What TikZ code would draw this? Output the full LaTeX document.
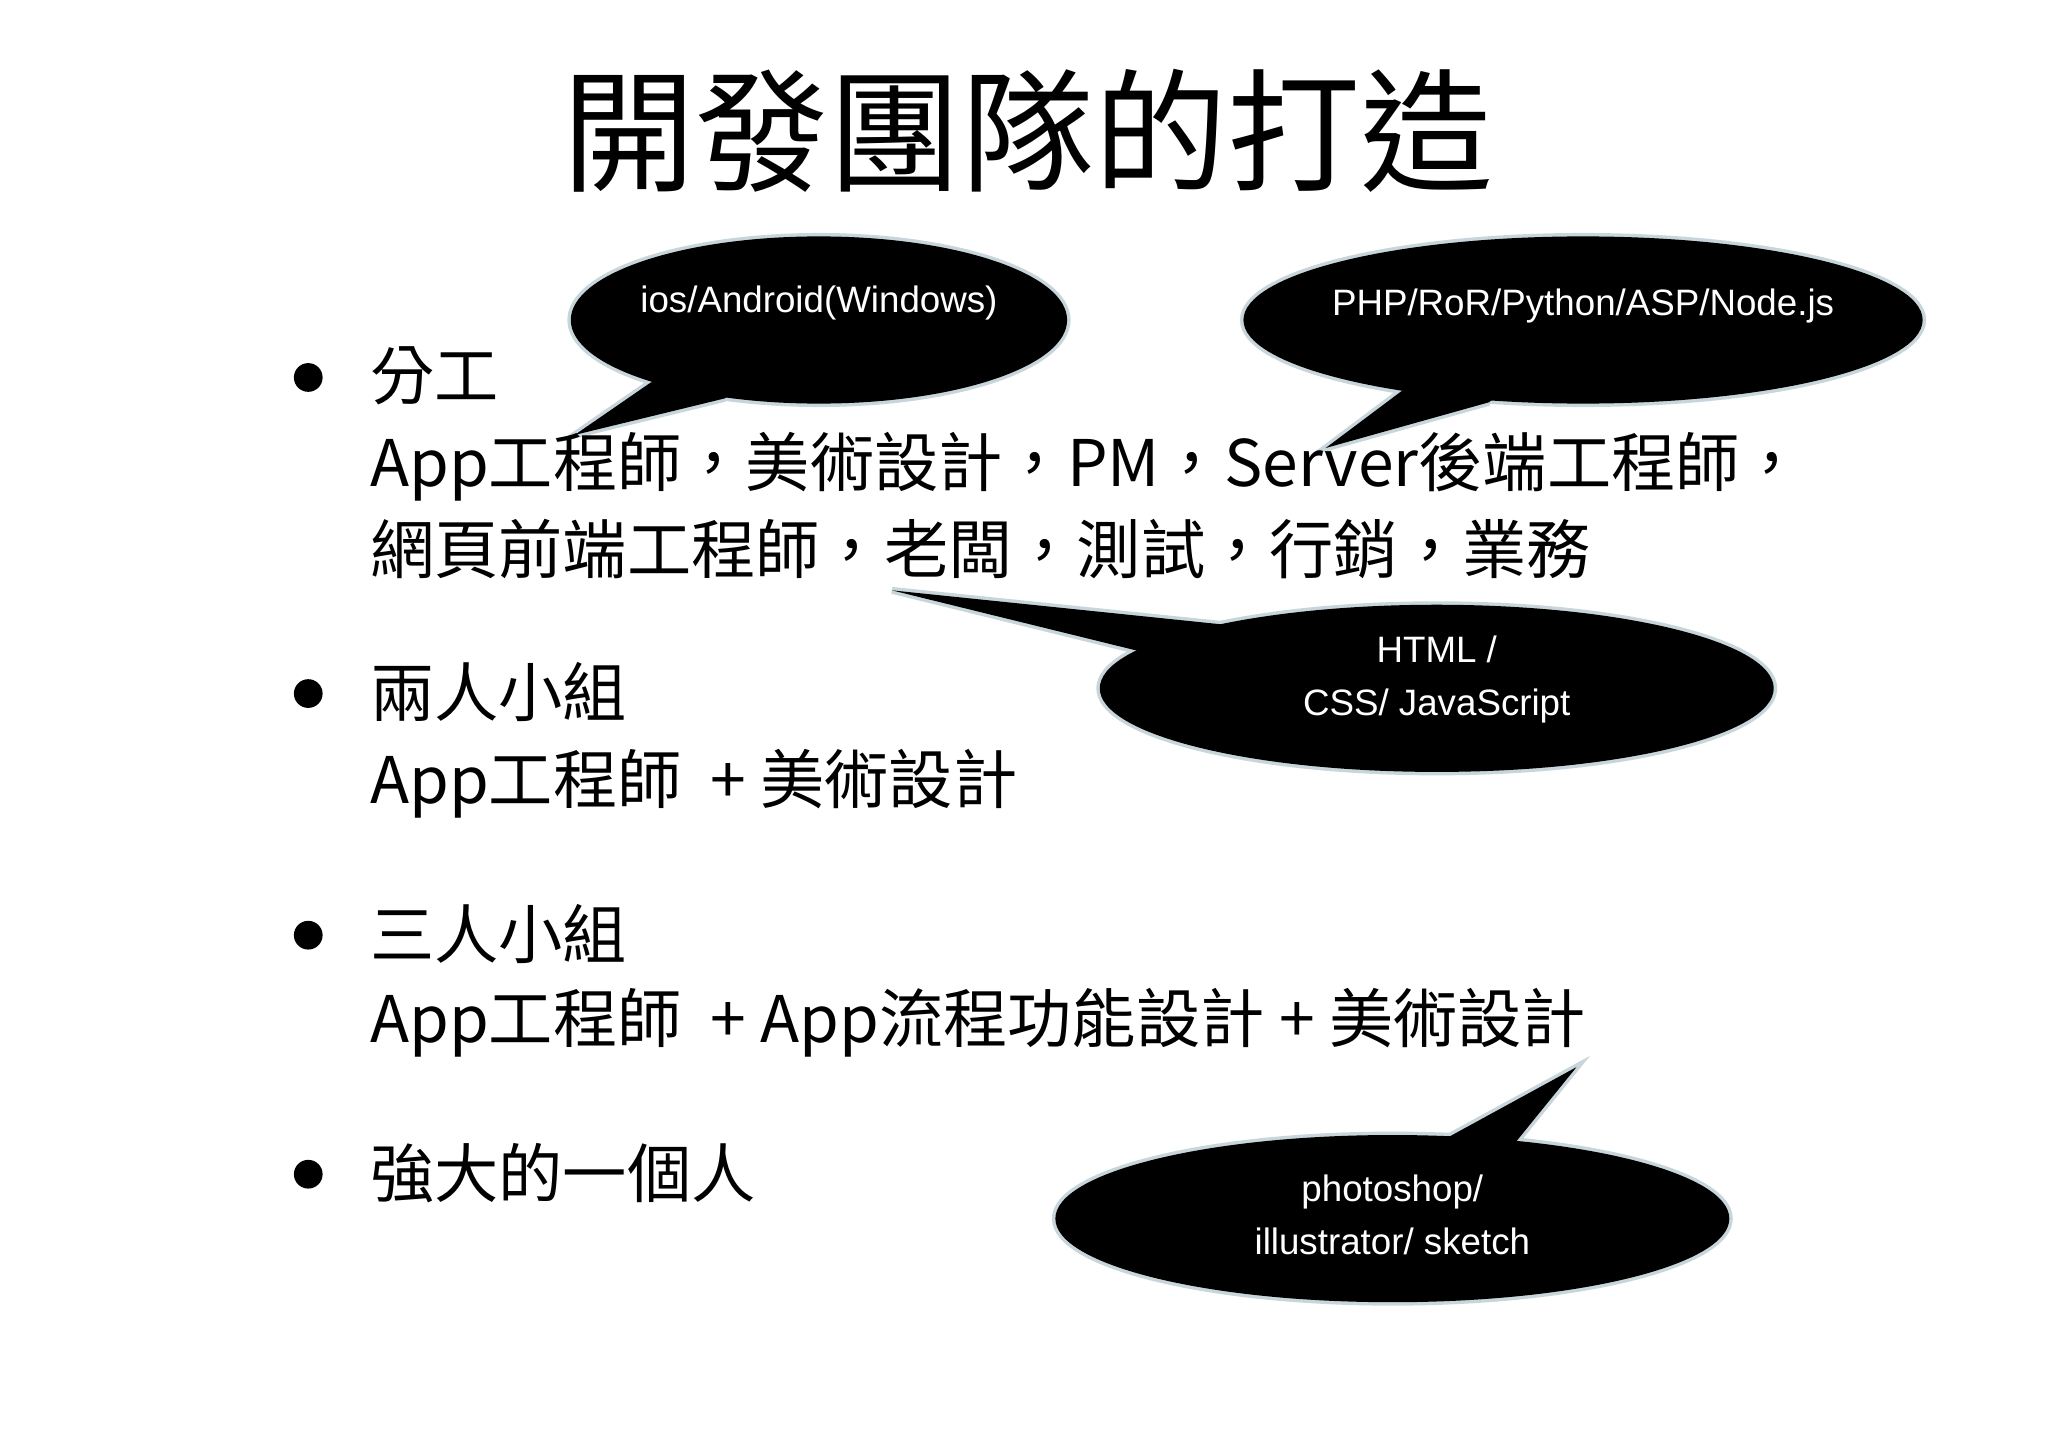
\documentclass[tikz,border=0pt]{standalone}
\usepackage{fontspec}
\setmainfont{Noto Sans CJK TC}
\newfontfamily\bubfont{Liberation Sans}
\begin{document}
\begin{tikzpicture}[x=0.02cm,y=-0.02cm,
  body/.style={anchor=west,inner sep=0,font=\fontsize{28}{34}\selectfont},
  bul/.style={circle,fill=black,minimum size=22*0.02cm,inner sep=0},
  btxt/.style={font=\bubfont\fontsize{16}{23}\selectfont,text=white,align=center},
  outl/.style={draw=cyan!25!gray!40,line width=3pt},
  ]
\useasboundingbox (0,0) rectangle (1568,1108);
\fill[white] (0,0) rectangle (1568,1108);
\node[font=\fontsize{58}{60}\selectfont] (title) at (787,100) {開發團隊的打造};
% bubbles: outlines first
\foreach \cx/\cy/\rx/\ry/\tx/\ty/\ax/\ay/\bx/\by in {627/245/190/64/440/333/498/293/555/305, 1212/245/260/64/1015/343/1075/298/1140/308, 1100/527/258/64/683/452/870/498/935/478, 1066/933/258/64/1207/817/1110/870/1160/875}{
  \draw[outl] (\cx,\cy) ellipse [x radius=\rx, y radius=\ry];
  \draw[outl,line join=miter] (\ax,\ay) -- (\tx,\ty) -- (\bx,\by);
}
\foreach \cx/\cy/\rx/\ry/\tx/\ty/\ax/\ay/\bx/\by in {627/245/190/64/440/333/498/293/555/305, 1212/245/260/64/1015/343/1075/298/1140/308, 1100/527/258/64/683/452/870/498/935/478, 1066/933/258/64/1207/817/1110/870/1160/875}{
  \fill[black] (\cx,\cy) ellipse [x radius=\rx, y radius=\ry];
  \fill[black] (\ax,\ay) -- (\tx,\ty) -- (\bx,\by) -- (\cx,\cy) -- cycle;
}
\node[btxt] (b1) at (627,232) {ios/Android(Windows)};
\node[btxt] (b2) at (1212,234) {PHP/RoR/Python/ASP/Node.js};
\node[btxt] (b3) at (1100,520) {HTML /\\CSS/ JavaScript};
\node[btxt] (b4) at (1066,930) {photoshop/\\illustrator/ sketch};
% bullets
\node[bul] (d1) at (236,289) {};
\node[bul] (d2) at (236,531) {};
\node[bul] (d3) at (236,716) {};
\node[bul] (d4) at (236,899) {};
\node[body] (t1) at (283,288) {分工};
\node[body] (t2) at (283,357) {App工程師，美術設計，PM，Server後端工程師，};
\node[body] (t3) at (283,420) {網頁前端工程師，老闆，測試，行銷，業務};
\node[body] (t4) at (283,530) {兩人小組};
\node[body] (t5) at (283,600) {App工程師\ \ + 美術設計};
\node[body] (t6) at (283,715) {三人小組};
\node[body] (t7) at (283,783) {App工程師\ \ + App流程功能設計 + 美術設計};
\node[body] (t8) at (283,898) {強大的一個人};
\end{tikzpicture}
\end{document}
